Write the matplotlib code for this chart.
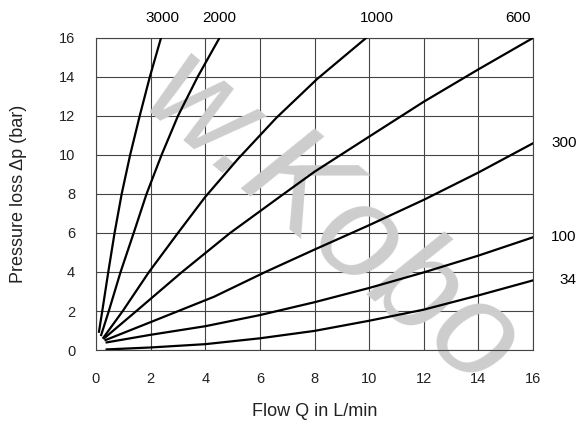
import matplotlib
matplotlib.use("Agg")
import matplotlib.pyplot as plt

plt.rcParams['font.family'] = ['Liberation Sans', 'DejaVu Sans']

# pressure loss curves, one per viscosity (flow L/min, pressure bar)
q_3000 = [0.11, 0.23, 0.45, 0.68, 0.94, 1.25, 1.6, 1.97, 2.38]
p_3000 = [0.94, 2.0, 4.0, 6.0, 8.0, 10.0, 12.0, 14.0, 16.0]

q_2000 = [0.19, 0.47, 0.90, 1.38, 1.85, 2.4, 3.0, 3.72, 4.52]
p_2000 = [0.77, 2.0, 4.0, 6.0, 8.0, 10.0, 12.0, 14.0, 16.0]

q_1000 = [0.27, 0.98, 1.94, 3.0, 4.0, 5.2, 6.6, 8.1, 9.89]
p_1000 = [0.63, 2.0, 4.0, 6.0, 7.85, 9.8, 11.9, 13.9, 16.0]

q_600 = [0.3, 1.48, 3.15, 4.91, 6.87, 8.0, 10.0, 12.0, 14.0, 16.0]
p_600 = [0.6, 2.0, 4.0, 6.0, 8.0, 9.14, 10.94, 12.73, 14.39, 16.0]

q_300 = [0.35, 2.0, 4.32, 6.2, 8.0, 10.0, 12.0, 14.0, 16.0]
p_300 = [0.51, 1.43, 2.73, 4.0, 5.15, 6.4, 7.7, 9.1, 10.6]

q_100 = [0.39, 2.0, 4.0, 6.0, 8.0, 10.0, 12.0, 14.0, 16.0]
p_100 = [0.39, 0.78, 1.22, 1.79, 2.45, 3.18, 3.98, 4.84, 5.78]

q_34 = [0.39, 2.0, 4.0, 6.0, 8.0, 10.0, 12.0, 14.0, 16.0]
p_34 = [0.03, 0.13, 0.3, 0.6, 0.98, 1.5, 2.07, 2.8, 3.57]

curves = [(q_3000, p_3000), (q_2000, p_2000), (q_1000, p_1000), (q_600, p_600),
          (q_300, p_300), (q_100, p_100), (q_34, p_34)]

top_labels = ['3000', '2000', '1000', '600']
top_label_x = [2.45, 4.5, 10.29, 15.45]
side_labels = ['300', '100', '34']
side_label_y = [10.6, 5.8, 3.6]

x_ticks = [0, 2, 4, 6, 8, 10, 12, 14, 16]
y_ticks = [0, 2, 4, 6, 8, 10, 12, 14, 16]

fig = plt.figure(figsize=(5.8, 4.24), dpi=100)
ax = fig.add_axes([0.1655, 0.1745, 0.7535, 0.736])

ax.set_xlim(0, 16)
ax.set_ylim(0, 16)
ax.set_xticks(x_ticks)
ax.set_yticks(y_ticks)
ax.tick_params(length=0, labelsize=10.5, colors='#222222')
ax.tick_params(axis='y', pad=15)
ax.tick_params(axis='x', pad=16)
ax.set_axisbelow(True)
ax.grid(True, color='#444444', linewidth=0.8)
for s in ax.spines.values():
    s.set_color('#444444')
    s.set_linewidth(0.8)

# faint watermark behind the curves
ax.text(8.6, 6.5, 'w.Kobo', rotation=-40, fontsize=98, color='#cdcdcd',
        style='italic', ha='center', va='center', zorder=1, clip_on=False)

for q, p in curves:
    ax.plot(q, p, color='black', linewidth=1.6, zorder=3)

for t, x in zip(top_labels, top_label_x):
    ax.text(x, 17.03, t, ha='center', va='center', fontsize=11, clip_on=False)
for t, y in zip(side_labels, side_label_y):
    ax.text(17.6, y, t, ha='right', va='center', fontsize=11, clip_on=False)

ax.set_xlabel('Flow Q in L/min', fontsize=13, color='#222222', labelpad=12)
ax.set_ylabel('Pressure loss Δp (bar)', fontsize=13, color='#222222', labelpad=23)

fig.savefig('out.png', dpi=100)
